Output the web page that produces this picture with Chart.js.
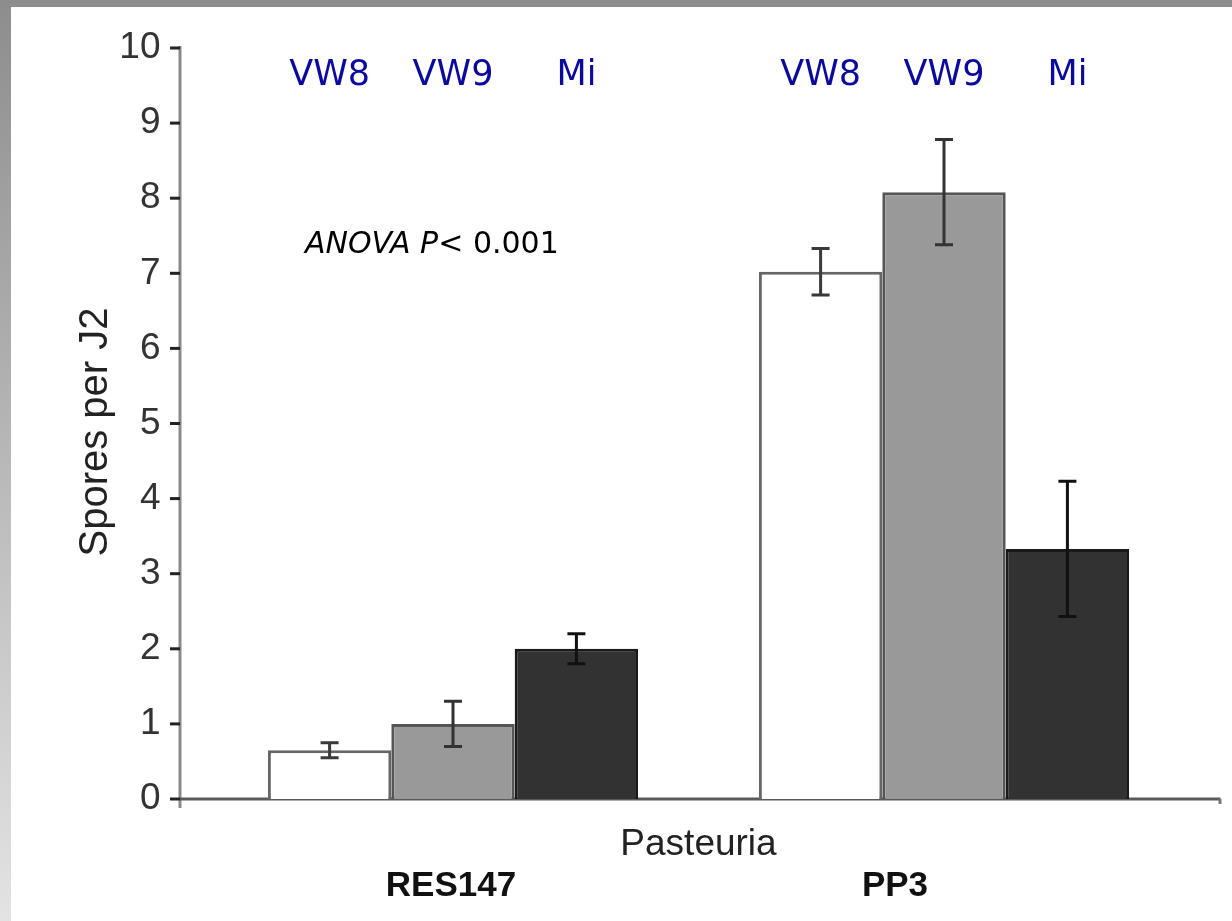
<!DOCTYPE html>
<html>
<head>
<meta charset="utf-8">
<script src="https://cdn.jsdelivr.net/npm/chart.js@4.4.1/dist/chart.umd.min.js"></script>
<style>
	html, body { margin: 0; padding: 0; background: #fff; }
	#frame {
		position: absolute; left: 0; top: 0; width: 1232px; height: 921px;
		background: #fff; overflow: hidden;
	}
	#frame .top { position: absolute; left: 0; top: 0; width: 1232px; height: 7px; background: #8d8d8d; }
	#frame .left { position: absolute; left: 0; top: 0; width: 11px; height: 921px;
		background: linear-gradient(#8d8d8d, #e3e3e3); }
	#chart { position: absolute; left: 0; top: 0; }
</style>
</head>
<body>
<div id="frame">
	<div class="top"></div>
	<div class="left"></div>
	<canvas id="chart" width="1232" height="921"></canvas>
</div>
<script>
// data
var categories = ['RES147', 'PP3'];
var seriesNames = ['VW8', 'VW9', 'Mi'];
var vw8Values = [0.65, 7.02];
var vw9Values = [1.0, 8.08];
var miValues = [2.0, 3.33];
var vw8Errors = [0.1, 0.31];
var vw9Errors = [0.3, 0.7];
var miErrors = [0.2, 0.9];
var yTicks = [0, 1, 2, 3, 4, 5, 6, 7, 8, 9, 10];

var errors = [vw8Errors, vw9Errors, miErrors];
var errorColors = ['#3a3a3a', '#333333', '#111111'];
var labelShift = [-2, -49]; // category labels sit a bit left of the bar groups
var axisFont = '"Liberation Sans", Arial, sans-serif';
var noteFont = '"Comic Sans MS", "DejaVu Sans", sans-serif';

// axis lines, titles, error bars and the blue series labels
var extras = {
	id: 'extras',
	beforeDatasetsDraw: function (chart) {
		var ctx = chart.ctx;
		var area = chart.chartArea;
		var y = chart.scales.y;
		var x = chart.scales.x;
		var axisX = area.left - 27.5;
		var zeroY = y.getPixelForValue(0);
		ctx.save();
		ctx.lineCap = 'butt';
		// y axis
		ctx.strokeStyle = '#8a8a8a';
		ctx.lineWidth = 3;
		ctx.beginPath();
		ctx.moveTo(axisX, y.getPixelForValue(10) - 2);
		ctx.lineTo(axisX, zeroY + 9);
		ctx.stroke();
		ctx.strokeStyle = '#222';
		yTicks.forEach(function (t) {
			var py = y.getPixelForValue(t);
			ctx.beginPath();
			ctx.moveTo(axisX - 10, py);
			ctx.lineTo(axisX, py);
			ctx.stroke();
		});
		// x axis
		ctx.strokeStyle = '#5a5a5a';
		ctx.beginPath();
		ctx.moveTo(axisX, zeroY);
		ctx.lineTo(area.right + 31, zeroY);
		ctx.stroke();
		ctx.fillStyle = '#777';
		ctx.fillRect(area.right + 29, zeroY, 3, 5);
		// category labels
		ctx.fillStyle = '#111';
		ctx.font = 'bold 35px ' + axisFont;
		ctx.textAlign = 'center';
		ctx.textBaseline = 'middle';
		categories.forEach(function (c, j) {
			ctx.fillText(c, x.getPixelForValue(j) + labelShift[j], 886);
		});
		// titles
		ctx.fillStyle = '#222';
		ctx.font = '37px ' + axisFont;
		ctx.fillText('Pasteuria', (area.left + area.right) / 2, 845);
		ctx.font = '40px ' + axisFont;
		ctx.translate(96, 432);
		ctx.rotate(-Math.PI / 2);
		ctx.fillText('Spores per J2', 0, 0);
		ctx.restore();
	},
	afterDatasetsDraw: function (chart) {
		var ctx = chart.ctx;
		var y = chart.scales.y;
		ctx.save();
		chart.data.datasets.forEach(function (ds, i) {
			var meta = chart.getDatasetMeta(i);
			meta.data.forEach(function (bar, j) {
				var v = ds.data[j];
				var e = errors[i][j];
				var top = y.getPixelForValue(v + e);
				var bot = y.getPixelForValue(v - e);
				ctx.strokeStyle = errorColors[i];
				ctx.lineWidth = 3;
				ctx.beginPath();
				ctx.moveTo(bar.x, top);
				ctx.lineTo(bar.x, bot);
				ctx.moveTo(bar.x - 9, top);
				ctx.lineTo(bar.x + 9, top);
				ctx.moveTo(bar.x - 9, bot);
				ctx.lineTo(bar.x + 9, bot);
				ctx.stroke();
				// series name over the bar
				ctx.fillStyle = '#0a0a9e';
				ctx.font = '35px ' + noteFont;
				ctx.textAlign = 'center';
				ctx.textBaseline = 'middle';
				ctx.fillText(seriesNames[i], bar.x, 76);
			});
		});
		ctx.fillStyle = '#000';
		ctx.textAlign = 'left';
		ctx.textBaseline = 'middle';
		ctx.font = 'italic 30px ' + noteFont;
		var x0 = 305;
		ctx.fillText('ANOVA ', x0, 245);
		x0 += ctx.measureText('ANOVA ').width;
		ctx.fillText('P', x0, 245);
		x0 += ctx.measureText('P').width;
		ctx.font = '30px ' + noteFont;
		ctx.fillText('< 0.001', x0, 245);
		ctx.restore();
	}
};

var config = {
	type: 'bar',
	data: {
		labels: categories,
		datasets: [{
			label: seriesNames[0],
			data: vw8Values,
			backgroundColor: '#ffffff',
			borderColor: '#666666',
			borderWidth: 3
		}, {
			label: seriesNames[1],
			data: vw9Values,
			backgroundColor: '#999999',
			borderColor: '#555555',
			borderWidth: 3
		}, {
			label: seriesNames[2],
			data: miValues,
			backgroundColor: '#323232',
			borderColor: '#1a1a1a',
			borderWidth: 3
		}]
	},
	options: {
		responsive: false,
		devicePixelRatio: 1,
		animation: false,
		layout: { padding: { left: 0, top: 48, right: 42.5, bottom: 0 } },
		plugins: {
			legend: { display: false },
			tooltip: { enabled: false }
		},
		datasets: {
			bar: { barPercentage: 1.0, categoryPercentage: 0.754 }
		},
		scales: {
			x: {
				grid: { display: false, drawTicks: false, tickLength: 0 },
				border: { display: false },
				ticks: { display: false },
				afterFit: function (scale) {
					scale.height = 122;
					scale.paddingLeft = 0;
					scale.paddingRight = 0;
				}
			},
			y: {
				min: 0,
				max: 10,
				grid: { display: false, drawTicks: false, tickLength: 0 },
				border: { display: false },
				ticks: {
					stepSize: 1,
					color: '#333',
					font: { family: axisFont, size: 37 },
					padding: 47
				},
				afterFit: function (scale) {
					scale.width = 207.5;
					scale.paddingTop = 0;
					scale.paddingBottom = 0;
				}
			}
		}
	},
	plugins: [extras]
};

var ctx = document.getElementById('chart').getContext('2d');
var sporesChart = new Chart(ctx, config);
</script>
</body>
</html>
